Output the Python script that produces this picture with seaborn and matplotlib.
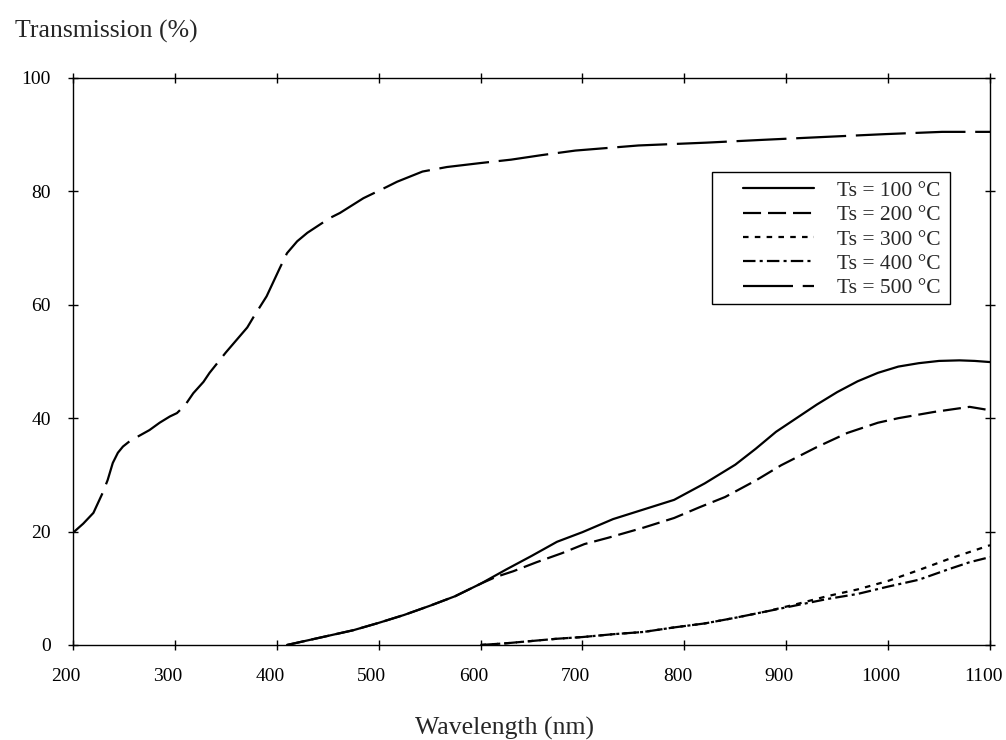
import numpy as np
import pandas as pd
import matplotlib
matplotlib.use("Agg")
import matplotlib.pyplot as plt
import matplotlib.transforms as mtransforms
from matplotlib.patches import Rectangle
import seaborn as sns

# Optical transmission spectra of films deposited at different substrate temperatures
wl_100 = [410, 425, 450, 475, 500, 525, 550, 575, 600, 625, 650, 675, 700, 730, 760,
          790, 820, 850, 870, 890, 910, 930, 950, 970, 990, 1010, 1030, 1050, 1070, 1085, 1100]
t_100 = [0.0, 0.6, 1.6, 2.6, 3.9, 5.3, 6.9, 8.6, 10.8, 13.3, 15.7, 18.2, 19.9, 22.2, 23.9,
         25.6, 28.5, 31.8, 34.6, 37.6, 40.0, 42.4, 44.6, 46.5, 48.0, 49.1, 49.7, 50.1, 50.2, 50.1, 49.9]

wl_200 = [410, 425, 450, 475, 500, 525, 550, 575, 600, 615, 632, 655, 680, 702, 725, 760,
          790, 815, 840, 870, 895, 930, 960, 990, 1010, 1045, 1080, 1100]
t_200 = [0.0, 0.6, 1.6, 2.6, 3.9, 5.3, 6.9, 8.6, 10.8, 12.0, 13.0, 14.6, 16.2, 17.8, 18.9, 20.7,
         22.4, 24.3, 26.1, 29.0, 31.7, 34.9, 37.4, 39.2, 40.0, 41.1, 42.0, 41.4]

wl_300 = [600, 625, 650, 675, 700, 730, 760, 790, 820, 850, 880, 910, 940, 970, 1000,
          1030, 1060, 1080, 1100]
t_300 = [0.0, 0.3, 0.7, 1.1, 1.4, 1.9, 2.3, 3.1, 3.8, 4.8, 5.9, 7.2, 8.6, 9.8, 11.3,
         13.2, 15.2, 16.4, 17.6]

wl_400 = [600, 625, 650, 675, 700, 730, 760, 790, 820, 850, 880, 910, 940, 970, 1000,
          1030, 1060, 1080, 1100]
t_400 = [0.0, 0.3, 0.7, 1.1, 1.4, 1.9, 2.3, 3.1, 3.8, 4.8, 5.9, 7.0, 8.1, 9.0, 10.3,
         11.5, 13.4, 14.6, 15.5]

wl_500 = [200, 210, 220, 229, 234, 239, 244, 249, 256, 263, 275, 285, 295, 302, 310, 318,
          328, 334, 350, 371, 377, 390, 403, 410, 420, 430, 452, 462, 485, 508, 518, 543,
          567, 600, 630, 660, 693, 755, 822, 878, 937, 997, 1053, 1100]
t_500 = [19.8, 21.4, 23.3, 26.8, 29.1, 32.1, 33.9, 35.0, 36.0, 36.7, 37.9, 39.2, 40.3, 40.9,
         42.3, 44.4, 46.4, 48.0, 51.6, 56.0, 57.8, 61.5, 66.5, 69.1, 71.2, 72.7, 75.3, 76.2,
         78.8, 80.8, 81.7, 83.5, 84.3, 85.0, 85.6, 86.4, 87.2, 88.1, 88.6, 89.1, 89.6, 90.1,
         90.5, 90.5]

labels = ["Ts = 100 °C", "Ts = 200 °C", "Ts = 300 °C", "Ts = 400 °C", "Ts = 500 °C"]
x_ticks = [200, 300, 400, 500, 600, 700, 800, 900, 1000, 1100]
y_ticks = [0, 20, 40, 60, 80, 100]

series = [(wl_100, t_100), (wl_200, t_200), (wl_300, t_300), (wl_400, t_400), (wl_500, t_500)]
df = pd.concat(
    [pd.DataFrame({"wavelength": w, "transmission": t, "series": lab})
     for lab, (w, t) in zip(labels, series)],
    ignore_index=True,
)

sns.set_theme(style="ticks")
plt.rcParams["font.family"] = ["Liberation Serif", "DejaVu Serif"]
plt.rcParams["lines.scale_dashes"] = False
plt.rcParams["axes.linewidth"] = 1.0

dash_styles = {
    labels[0]: "",
    labels[1]: (13, 5),
    labels[2]: (4, 4.5),
    labels[3]: (9, 3, 2.2, 3),
    labels[4]: (36, 7),
}

fig = plt.figure(figsize=(10.06, 7.40), dpi=100)
ax = fig.add_axes([0.0726, 0.1284, 0.9115, 0.7662])

sns.lineplot(data=df, x="wavelength", y="transmission", style="series",
             style_order=labels, dashes=dash_styles, color="black",
             linewidth=1.6, estimator=None, sort=False, ax=ax)

ax.set_xlim(200, 1100)
ax.set_ylim(0, 100)
ax.set_xticks(x_ticks)
ax.set_yticks(y_ticks)
ax.tick_params(axis="both", direction="inout", length=7, width=1.0, colors="black",
               top=True, right=True, labeltop=False, labelright=False, labelsize=14)
ax.tick_params(axis="x", pad=13)
ax.tick_params(axis="y", pad=12.5)
for side in ["left", "right", "top", "bottom"]:
    ax.spines[side].set_visible(True)
    ax.spines[side].set_color("black")

# nudge the wavelength labels slightly to the left so the last one stays inside
shift = mtransforms.ScaledTranslation(-5 / 72, 0, fig.dpi_scale_trans)
for lbl in ax.get_xticklabels():
    lbl.set_transform(lbl.get_transform() + shift)

ax.set_xlabel("Wavelength (nm)", fontsize=18.5)
ax.xaxis.set_label_coords(0.471, -0.127)
ax.set_ylabel("Transmission (%)", fontsize=18.5, rotation=0, ha="left", va="baseline")
ax.yaxis.set_label_coords(-0.063, 1.072)

# legend box with a wider left margin than the legend's own padding
frame = Rectangle((0.697, 0.601), 0.259, 0.233, transform=ax.transAxes,
                  facecolor="white", edgecolor="black", linewidth=1.0, zorder=4.5)
ax.add_patch(frame)

handles, labs = ax.get_legend_handles_labels()
leg = ax.legend(handles, labs, loc="upper right", bbox_to_anchor=(0.956, 0.834),
                borderaxespad=0, fontsize=15.5, handlelength=3.3, handletextpad=1.1,
                labelspacing=0.2, borderpad=0.4, frameon=False)
leg.set_zorder(5)

fig.savefig("out.png", dpi=100, facecolor="white")
